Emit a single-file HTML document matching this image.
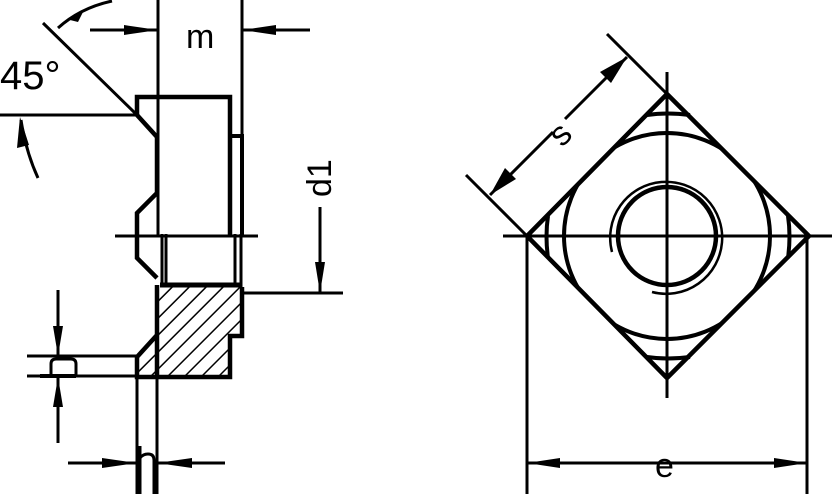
<!DOCTYPE html>
<html><head><meta charset="utf-8"><style>
html,body{margin:0;padding:0;background:#fff;width:832px;height:494px;overflow:hidden}
svg{display:block}
text{font-family:"Liberation Sans",sans-serif;fill:#000}
</style></head><body>
<svg width="832" height="494" viewBox="0 0 832 494" xmlns="http://www.w3.org/2000/svg">
<defs>
<pattern id="h" patternUnits="userSpaceOnUse" width="12" height="12" patternTransform="rotate(45)">
<line x1="0" y1="0" x2="0" y2="12" stroke="#000" stroke-width="3"/>
</pattern>
</defs>
<g stroke="#000" fill="none" stroke-linecap="butt">
<line x1="158" y1="0" x2="158" y2="236" stroke-width="3"/>
<line x1="242" y1="0" x2="242" y2="136" stroke-width="3"/>
<line x1="90" y1="30" x2="158" y2="30" stroke-width="3"/>
<line x1="242" y1="30" x2="310" y2="30" stroke-width="3"/>
<line x1="43" y1="23" x2="137" y2="115" stroke-width="3"/>
<line x1="0" y1="115" x2="137" y2="115" stroke-width="3"/>
<path d="M112 1 Q80 8 58 28" stroke-width="3"/>
<path d="M38 178 Q26 152 21 120" stroke-width="3"/>
<path d="M137 115 L137 97 L230 97 L230 236" stroke-width="4.5"/>
<path d="M137 115 L157 137 L157 193 L137 213 L137 236" stroke-width="4.5"/>
<path d="M230 136 L242 136 L242 236" stroke-width="4"/>
<line x1="115" y1="236" x2="258" y2="236" stroke-width="3"/>
<path d="M137 236 L137 258 L157 278" stroke-width="4.5"/>
<line x1="162" y1="234" x2="162" y2="287" stroke-width="3"/>
<line x1="166" y1="234" x2="166" y2="287" stroke-width="3"/>
<line x1="235" y1="234" x2="235" y2="287" stroke-width="3"/>
<line x1="241" y1="234" x2="241" y2="287" stroke-width="3"/>
<line x1="160" y1="285" x2="242" y2="285" stroke-width="5"/>
<path d="M157 287 L242 287 L242 336 L230 336 L230 377 L137 377 L137 357 L157 335 Z" fill="url(#h)" stroke="none"/>
<path d="M157 285 L157 377 M242 287 L242 336 L230 336 L230 377 L137 377 L137 357 L157 335" stroke-width="4.5"/>
<line x1="320" y1="207" x2="320" y2="293" stroke-width="3"/>
<line x1="242" y1="293" x2="343" y2="293" stroke-width="3"/>
<line x1="27" y1="356" x2="137" y2="356" stroke-width="3"/>
<line x1="27" y1="376" x2="137" y2="376" stroke-width="3"/>
<path d="M51 376 L51 364 Q51 359 56 359 L71 359 Q76 359 76 364 L76 376" stroke-width="3"/>
<line x1="40" y1="376" x2="76" y2="376" stroke-width="4"/>
<line x1="58" y1="290" x2="58" y2="356" stroke-width="3"/>
<line x1="58" y1="377" x2="58" y2="443" stroke-width="3"/>
<line x1="137" y1="377" x2="137" y2="494" stroke-width="3"/>
<line x1="157" y1="377" x2="157" y2="494" stroke-width="3"/>
<line x1="68" y1="463" x2="137" y2="463" stroke-width="3"/>
<line x1="157" y1="463" x2="225" y2="463" stroke-width="3"/>
<path d="M140 494 L140 446 M140 458 Q143 454 148 454 Q154 454 154 460 L154 494" stroke-width="3"/>

<line x1="503" y1="236" x2="832" y2="236" stroke-width="3"/>
<line x1="667" y1="72" x2="667" y2="398" stroke-width="3"/>
<line x1="527" y1="236" x2="527" y2="494" stroke-width="3"/>
<line x1="807" y1="236" x2="807" y2="494" stroke-width="3"/>
<line x1="527" y1="463" x2="807" y2="463" stroke-width="3"/>
<path d="M667 94 L809 236 L667 378 L527 236 Z" stroke-width="4.5"/>
<clipPath id="sq"><path d="M667 94 L809 236 L667 378 L527 236 Z"/></clipPath>
<circle cx="667" cy="236" r="103" stroke-width="4" clip-path="url(#sq)"/>
<circle cx="667" cy="236" r="49" stroke-width="4.5"/>
<path d="M612 252 A56 56 0 1 1 652 292" stroke-width="2.5"/>
<path d="M647 115 Q667 112 690 115" stroke-width="4"/>
<path d="M647 357 Q667 360 690 357" stroke-width="4"/>
<path d="M548 216 Q545 236 548 258" stroke-width="4"/>
<path d="M788 216 Q791 236 788 258" stroke-width="4"/>
<line x1="667" y1="94" x2="607" y2="34" stroke-width="3"/>
<line x1="527" y1="236" x2="466" y2="175" stroke-width="3"/>
<line x1="490" y1="195" x2="553" y2="132" stroke-width="3"/>
<line x1="565" y1="119" x2="627" y2="57" stroke-width="3"/>
</g>
<g fill="#000">
<polygon points="158,30 124,25 124,35"/>
<polygon points="242,30 276,25 276,35"/>
<polygon points="56,30 84,10 78,22 70,20"/>
<polygon points="20,117 17,148 29,145"/>
<polygon points="320,293 315,262 325,262"/>
<polygon points="58,356 53,326 63,326"/>
<polygon points="58,377 53,407 63,407"/>
<polygon points="137,463 102,458 102,468"/>
<polygon points="157,463 192,458 192,468"/>
<polygon points="527,463 560,458 560,468"/>
<polygon points="807,463 774,458 774,468"/>
<polygon points="490,195 505,168 516,179"/>
<polygon points="627,57 600,72 611,83"/>
</g>
<text x="0" y="89" font-size="40">45°</text>
<text x="186" y="48" font-size="34">m</text>
<text x="0" y="0" font-size="34" transform="translate(331,197) rotate(-90)">d1</text>
<text x="0" y="0" font-size="34" transform="translate(562,148) rotate(-45)">s</text>
<text x="655" y="477" font-size="34">e</text>
</svg>
</body></html>
